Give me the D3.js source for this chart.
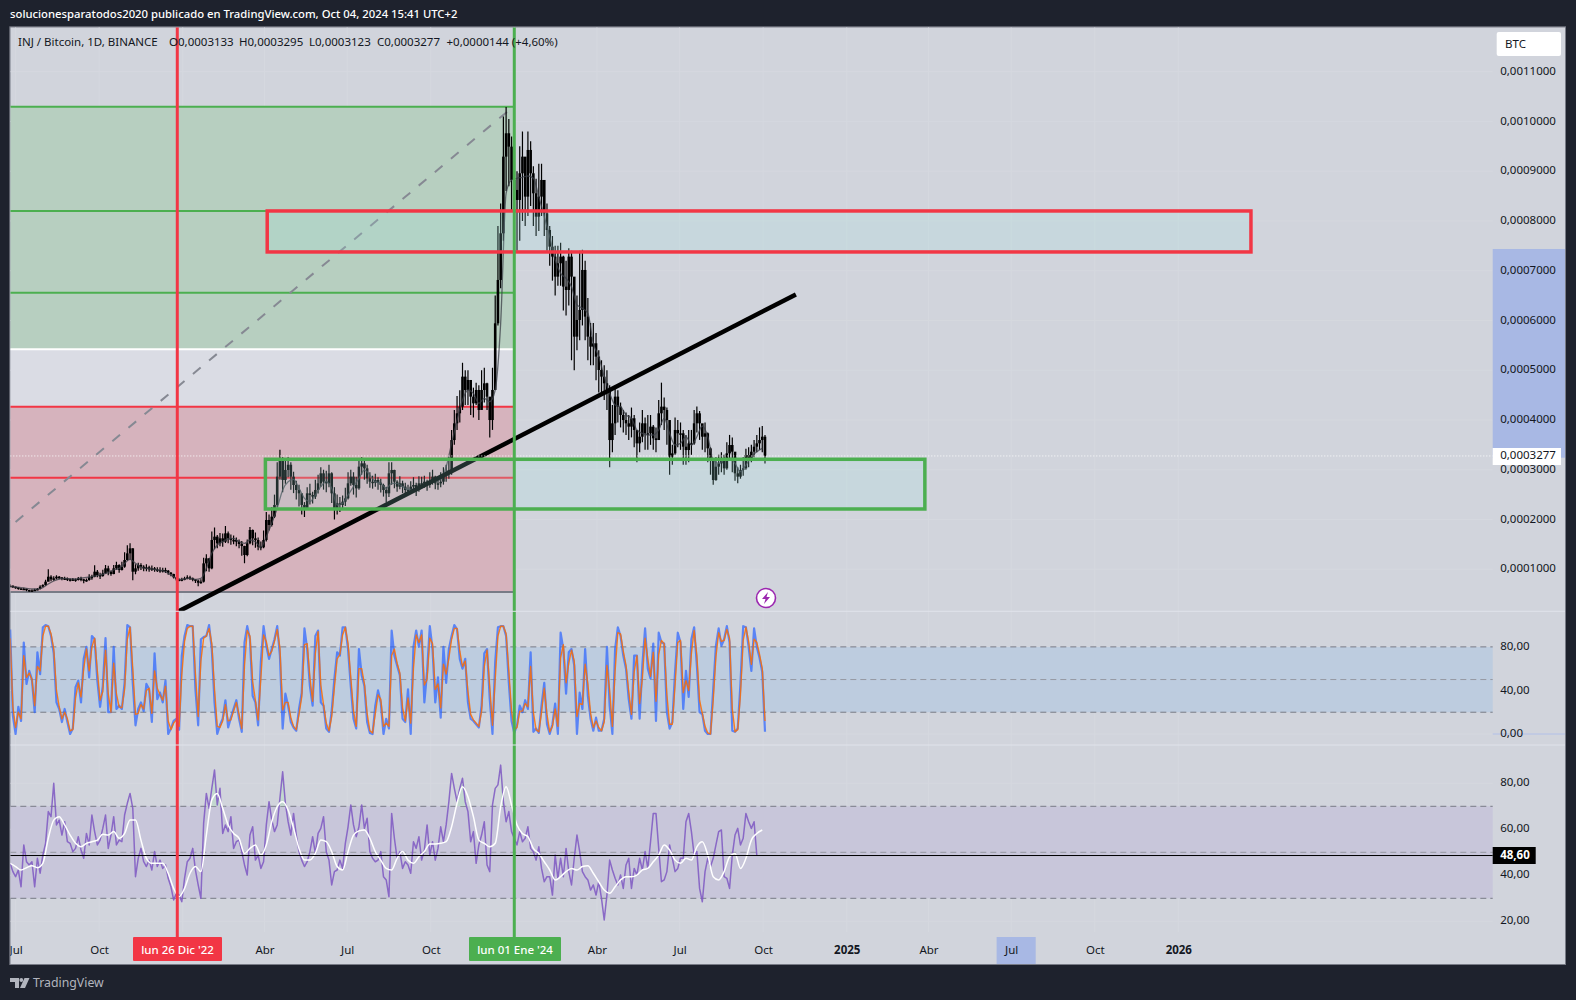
<!DOCTYPE html>
<html>
<head>
    <title>INJ / Bitcoin, 1D, BINANCE</title>
    <meta charset="utf-8">
    <script src="https://cdnjs.cloudflare.com/ajax/libs/d3/7.8.5/d3.min.js" charset="utf-8"></script>
    <style>
        html, body { margin: 0; padding: 0; background: #1e222d; }
        svg { display: block; }
        text { font-family: "Noto Sans", sans-serif; font-size: 11.5px; fill: #131722; }
    </style>
</head>
<body>
<svg id="chart" width="1576" height="1000"></svg>

<script>

    // all prices are in units of 0.0000001 BTC, one sample every 3 days from 25 Jun 2022
    var priceClose = [
        670,648,635,615,602,608,582,568,575,588,
        603,650,683,750,850,797,817,850,837,804,
        817,797,784,797,784,817,797,770,784,837,
        850,951,884,864,917,1018,951,904,1018,1085,
        985,1051,1186,1320,1420,951,1018,1085,1051,1018,
        1038,998,1018,998,985,971,985,971,931,904,
        837,797,784,797,817,837,817,797,770,730,
        750,1118,1219,1018,1588,1655,1521,1621,1554,1722,
        1621,1588,1588,1554,1508,1467,1286,1521,1789,1621,
        1588,1454,1441,1588,1990,1890,2057,2292,2861,3196,
        2794,2995,3100,2861,2693,2593,2526,2292,2225,2526,
        2492,2459,2593,2727,2928,2760,2727,2928,2526,2225,
        2325,2292,2358,2425,2727,2861,2693,2626,3062,3129,
        3028,2827,2760,2740,2794,2740,2693,2593,2526,2928,
        2995,2760,2660,2727,2660,2593,2593,2660,2693,2593,
        2727,2727,2760,2693,2760,2861,2727,2727,2760,2894,
        2928,2995,3597,3933,4134,4268,4871,4603,4804,4469,
        4335,4603,4201,4603,4737,4469,3999,4603,5943,6814,
        7752,9293,9762,9494,8824,8623,8422,8958,9293,8489,
        9427,8958,8556,8087,8489,8824,8154,7819,7484,7283,
        6881,7149,7283,6680,6613,7283,6881,5675,6010,6211,
        7015,6077,5675,5474,5541,5273,5005,4871,4737,4603,
        3597,3933,4469,4268,4101,3999,3933,3866,4034,3799,
        3530,3664,3933,3732,3732,3866,3631,3597,4134,4268,
        4201,3999,3263,3329,3799,3732,3732,3463,3396,3530,
        3530,3933,4134,3933,3664,3732,3430,3195,2793,3061,
        3128,3195,3028,3329,3497,3363,2928,2861,2995,3028,
        3296,3229,3363,3463,3530,3597,3664,3277
    ];
    var priceHigh = [
        700,672,655,640,618,628,610,588,592,610,
        625,680,700,790,1000,880,860,880,865,840,
        850,835,815,825,815,845,850,810,815,900,
        890,1080,985,930,990,1085,1070,975,1085,1150,
        1100,1150,1340,1480,1520,1420,1100,1130,1120,1080,
        1100,1070,1075,1045,1040,1040,1030,1030,985,945,
        910,840,815,830,850,880,870,835,800,790,
        800,1230,1300,1220,1760,1840,1690,1730,1720,1870,
        1760,1700,1680,1640,1600,1570,1470,1600,1850,1800,
        1740,1640,1560,1780,2150,2100,2250,2500,3150,3400,
        3250,3180,3250,3150,2960,2780,2700,2500,2350,2650,
        2720,2560,2800,2900,3050,3000,2980,3100,2950,2650,
        2500,2450,2480,2640,2950,3000,2950,2860,3200,3250,
        3230,3100,2950,2880,2920,2850,2820,2720,2660,3150,
        3150,3000,2790,2870,2780,2740,2700,2770,2850,2740,
        2870,2860,2880,2800,2950,3000,2880,2850,2950,3050,
        3100,3250,3800,4200,4480,4600,5150,5000,5000,4750,
        4650,4750,4700,5000,5050,4750,4400,5050,6500,7900,
        8350,10100,10290,10050,9700,9150,9000,9500,9800,9200,
        9800,9600,9100,8850,9150,9150,8700,8350,7900,7700,
        7500,7500,7560,7300,7200,7450,7400,6800,6500,7400,
        7420,7200,6450,5950,5950,5750,5400,5200,5100,5000,
        4700,4300,4650,4600,4350,4200,4150,4100,4250,4100,
        3800,3950,4200,4050,4100,4100,3900,3850,4400,4750,
        4450,4250,3900,3500,4050,4000,3950,3800,3700,3800,
        3800,4200,4270,4180,3900,3950,3750,3450,3200,3250,
        3300,3350,3300,3550,3700,3650,3200,3050,3100,3250,
        3420,3450,3500,3600,3700,3850,3880,3700
    ];
    var priceLow = [
        640,625,610,590,585,585,560,548,555,565,
        580,595,640,670,760,760,770,800,800,780,
        785,765,755,765,750,775,760,720,750,770,
        790,840,840,805,850,910,880,870,900,990,
        930,975,1030,1170,1190,780,900,970,985,960,
        960,950,965,950,945,930,935,925,890,860,
        815,770,760,760,780,800,785,760,725,660,
        710,735,960,950,1000,1400,1420,1460,1450,1530,
        1520,1490,1500,1460,1420,1270,1120,1260,1500,1480,
        1430,1380,1380,1420,1560,1780,1860,2030,2250,2800,
        2550,2720,2850,2600,2530,2400,2260,2100,2050,2200,
        2300,2320,2410,2520,2660,2600,2550,2650,2330,2000,
        2100,2150,2220,2270,2400,2680,2500,2440,2600,2900,
        2800,2720,2640,2620,2660,2600,2540,2460,2340,2450,
        2700,2630,2560,2610,2530,2480,2490,2540,2580,2470,
        2560,2620,2640,2580,2640,2700,2610,2600,2650,2700,
        2760,2820,2900,3500,3800,3950,4200,4300,4300,4100,
        4050,4300,4000,4250,4350,4200,3650,3800,4700,5900,
        6650,7600,8600,8700,8200,8000,7400,7600,8000,7900,
        8100,8300,7900,7700,7800,8100,7700,7400,7100,6800,
        6500,6700,6700,6200,6100,6300,5200,5000,5400,5600,
        5900,5600,5200,5100,5100,4800,4550,4500,4400,4200,
        3050,3350,3700,3950,3850,3750,3700,3600,3650,3450,
        3150,3350,3550,3400,3400,3500,3400,3350,3600,3900,
        3800,3500,2900,3100,3300,3450,3400,3100,3100,3150,
        3300,3500,3750,3600,3400,3350,3150,2900,2700,2780,
        2900,2950,2900,3000,3200,2950,2780,2730,2820,2880,
        3000,3050,3150,3250,3350,3400,3350,3123
    ];

    // moving average on the price, one sample every 6 days
    var priceMa = [
        650,643,630,616,603,603,630,704,764,804,
        817,810,804,824,837,850,871,898,938,985,
        1018,1118,1199,1118,1038,1018,1005,985,971,918,
        851,797,804,817,797,817,1018,1320,1488,1554,
        1608,1621,1554,1521,1588,1554,1441,1655,1923,2225,
        2593,2760,2807,2626,2425,2358,2492,2660,2760,2626,
        2291,2325,2492,2660,2827,2995,2894,2760,2727,2626,
        2727,2727,2660,2606,2606,2646,2693,2740,2760,2807,
        3061,3530,3999,4402,4603,4536,4335,4436,4368,4603,
        5943,8556,8824,8857,8878,8904,8857,8489,8087,7685,
        7216,6948,6848,6680,6312,6245,6144,5541,5273,4871,
        4536,4302,4268,4101,4034,3799,3732,3698,3698,3799,
        4034,3732,3497,3530,3664,3497,3664,3879,3664,3195,
        3128,3195,3229,3128,2961,3095,3263,3363,3430
    ];

    // Stoch RSI %K and %D, one sample every 3 days
    var stochK = [
        96,17,0,25,12,84,46,58,50,20,
        75,55,98,100,99,90,74,29,23,11,
        23,11,0,5,43,49,29,69,80,52,
        90,87,49,25,44,88,20,20,80,23,
        26,23,47,100,98,47,8,23,29,21,
        46,41,11,74,32,38,29,49,0,5,
        12,14,4,72,90,100,99,99,41,8,
        87,89,90,100,78,29,0,8,14,31,
        6,15,23,31,14,2,84,99,87,35,
        29,8,66,99,81,69,78,87,99,72,
        5,37,26,11,6,3,23,38,97,78,
        44,26,90,95,29,26,5,2,21,51,
        75,72,98,98,78,44,14,5,78,54,
        44,11,1,0,26,40,29,0,14,5,
        95,72,63,
        54,14,11,41,0,80,95,80,95,29,
        57,99,78,29,52,15,80,47,78,90,
        100,96,69,60,69,29,14,12,9,6,
        26,74,78,32,0,66,98,99,99,90,
        47,12,1,8,26,20,31,23,75,2,
        5,1,26,47,9,0,9,28,0,93,
        78,37,75,78,63,0,38,23,78,35,
        14,3,15,3,3,14,80,26,0,78,
        98,90,72,60,32,14,72,72,14,
        63,97,60,51,83,12,93,84,83,
        20,5,11,57,93,84,23,58,34,
        87,98,63,20,18,3,0,0,41,81,
        97,81,87,99,84,3,2,5,46,99,
        98,80,58,97,80,70,57,2
    ];
    var stochD = [
        88,25,6,20,14,72,52,56,50,26,
        62,58,90,99,99,92,78,40,25,14,
        20,14,3,4,33,47,34,60,78,58,
        80,88,58,31,39,77,37,20,65,37,
        25,24,41,87,98,60,18,19,27,23,
        40,42,19,58,42,36,31,44,12,4,
        10,13,7,55,85,97,99,99,55,16,
        67,88,90,97,83,41,7,6,12,27,
        12,13,21,29,18,5,63,95,90,48,
        31,13,51,91,85,72,76,85,96,79,
        22,29,29,15,7,4,18,34,82,83,
        52,30,74,94,45,27,10,3,16,43,
        69,73,91,98,83,52,21,7,60,60,
        46,19,3,1,19,36,32,7,10,7,
        72,78,65,
        56,24,12,33,10,60,91,84,91,45,
        50,88,83,41,46,24,64,55,70,87,
        97,97,76,62,67,39,18,13,10,7,
        21,62,77,43,8,50,90,99,99,92,
        58,21,4,6,21,21,28,25,62,20,
        4,2,20,42,18,2,7,23,7,70,
        82,47,65,77,67,16,28,27,64,46,
        19,6,12,6,3,11,63,40,7,58,
        93,92,76,63,39,18,57,72,28,
        51,88,69,53,75,30,73,86,83,
        36,9,9,45,84,86,38,49,40,
        74,95,72,31,19,7,1,0,31,71,
        93,85,86,96,88,23,2,4,36,86,
        98,85,64,87,84,73,60,12
    ];

    // RSI, one sample every 3 days, and its moving average, one sample every 6 days
    var rsi = [
        45.2,41.6,39.4,42.3,35,53.2,45.9,44.5,45.9,35,
        47.4,40.9,48.8,53.9,67.7,65.5,80,61.9,64,57.5,
        63.3,54.6,53.9,50.3,51.7,56.8,51,47.4,58.2,53.2,
        66.2,59,53.2,55.3,60.4,66.2,51.7,57.5,65.5,53.2,
        55.3,54.6,66.2,71.3,75.6,69.1,39.4,47.4,51.7,45.9,
        43.8,46.6,42.3,50.3,43.8,46.6,43,44.5,38.7,35,
        29.3,32.2,31.4,28.5,38.7,45.9,47.4,51.7,42.3,35.8,
        30,62.6,75.6,69.1,77.8,85.8,70.6,77.8,58.2,61.9,
        59,65.5,51.7,54.6,55.3,50.3,44.5,40.1,57.5,61.1,
        46.6,48.8,43,45.9,61.9,72,64,59,61.9,73.5,
        85,71.3,63.3,57.5,66.9,57.5,50.3,46.6,43.8,45.9,
        50.3,56.8,49.5,58.2,60.4,65.5,50.3,46.6,35.8,41.6,
        42.3,46.6,43,53.9,61.1,70.6,61.9,56.8,61.1,70.6,
        60.4,64.8,50.3,47.4,45.9,46.6,50.3,39.4,38,30.7,
        66.9,56.1,47.4,
        50.3,43,45.9,44.5,40.9,54.6,51.7,56.8,46.6,51,
        61.9,48.8,54.6,46.6,51.7,61.1,54.6,61.9,72,84.3,
        77.8,72,77.8,82.2,72,67.7,54.6,59,45.2,53.2,
        57.5,63.3,44.5,41.6,70.6,77.8,79.3,87.9,72,63.3,
        67.7,59,56.1,53.2,59,54.6,56.1,61.1,51.7,50.3,
        46.6,52.4,43,37.2,39.4,39.4,31.4,48.8,38.7,47.4,
        39.4,51.7,41.6,35.8,47.4,57.5,50.3,41.6,39.4,38,
        33.6,35.8,31.4,37.2,30,20.6,31.4,46.6,42.3,38.7,
        35.8,40.1,34.3,44.5,47.4,34.3,43,40.1,47.4,42.3,
        50.3,43,54.6,66.9,66.9,51.7,37.2,38,41.6,53.2,
        47.4,41.6,43,47.4,47.4,63.3,66.9,59,48.8,50.3,
        34.3,28.5,41.6,47.4,43.8,47.4,53.2,59,59.7,39.4,
        38.7,34.3,48.8,57.5,60.4,53.2,56.1,66.9,63.3,60.4,
        63.3,48.6
    ];
    var rsiMa = [
        45.2,43.8,42.3,43.3,44.2,43.3,45.2,56.1,64,65.5,
        61.9,57.5,53.9,52.4,53.9,54.6,55.3,57.8,57.5,59,
        56.1,58.2,64,64,55.3,47.4,45.2,45.2,45.2,40.9,
        34.3,30.7,34.3,40.9,43.8,41.6,57.5,72.7,75.6,69.1,
        61.9,58.2,56.1,49.5,51.7,53.2,48.8,53.2,63.3,69.8,
        72,68.4,60.4,51.7,46.6,46.6,49.5,55.3,54.6,50.3,
        43.8,42.3,50.3,57.5,59.3,59.7,56.1,50.3,46.6,43,
        42.3,47.4,50.3,46.6,45.2,48.1,50.3,53.6,53.6,53.9,
        54.6,61.1,71.3,78.5,74.2,65.5,55.3,53.9,52.4,53.9,
        69.8,78.5,70.6,61.9,58.2,56.8,51.7,49.5,45.9,42.3,
        38,39.4,41.6,43,42.3,43.8,44.2,40.9,37.2,33.6,
        32.2,35,38,39.4,39.4,40.1,42.3,43,45.9,48.8,
        53.2,51,46.6,45.2,47.4,46.6,52.4,54.6,48.8,39.4,
        38,41.6,48.1,49.5,43,47.4,55.3,58.2,59.7
    ];

    var lastPrice = 3277;
    var lastRsi = 48.6;

    var priceTicks = [1000,2000,3000,4000,5000,6000,7000,8000,9000,10000,11000];
    var stochTicks = [0,40,80];
    var stochLevels = [20,50,80];
    var rsiTicks = [20,40,60,80];
    var rsiLevels = [30,50,70];

    // fib levels of the long position tool
    var fibGreen = [10297,8201,6559];
    var fibWhite = 5421;
    var fibRed = [4267,2840];
    var fibGrey = 543;

    var monthLabels = [
        ["2022-07-01","Jul"],["2022-10-01","Oct"],["2023-04-01","Abr"],["2023-07-01","Jul"],
        ["2023-10-01","Oct"],["2024-04-01","Abr"],["2024-07-01","Jul"],["2024-10-01","Oct"],
        ["2025-01-01","2025"],["2025-04-01","Abr"],["2025-07-01","Jul"],["2025-10-01","Oct"],
        ["2026-01-01","2026"]
    ];

    var legendParts = [
        [18,"INJ / Bitcoin, 1D, BINANCE"],[169,"O0,0003133"],[239,"H0,0003295"],
        [309,"L0,0003123"],[377,"C0,0003277"],[446.5,"+0,0000144 (+4,60%)"]
    ];

    var parse = d3.utcParse("%Y-%m-%d");
    var esLocale = d3.formatLocale({decimal: ",", thousands: ".", grouping: [3], currency: ["", ""]});
    var fmtPrice = esLocale.format(".7f");
    var fmtOsc = esLocale.format(".2f");

    var startDate = parse("2022-06-25");
    function sampleDate(i, step) { return d3.utcDay.offset(startDate, i * step); }

    var x = d3.scaleUtc().domain([startDate, parse("2024-10-04")]).range([10.15, 765.9]);
    var yPrice = d3.scaleLinear().domain([0, 11000]).range([619, 71.7]);
    var yStoch = d3.scaleLinear().domain([0, 100]).range([734, 625.1]);
    var yRsi = d3.scaleLinear().domain([20, 80]).range([921.3, 783.3]);

    var boxLeft = 10.3, boxRight = 1565, boxTop = 27.3, boxBottom = 964, axisLeft = 1492.7;
    var paneSep1 = 611.3, paneSep2 = 745;

    var colRed = "#f23645", colGreen = "#4caf50";

    var svg = d3.select("#chart");
    var defs = svg.append("defs");
    defs.append("clipPath").attr("id", "clipAll").append("rect")
        .attr("x", boxLeft).attr("y", boxTop).attr("width", boxRight - boxLeft).attr("height", boxBottom - boxTop);
    defs.append("clipPath").attr("id", "clipPrice").append("rect")
        .attr("x", boxLeft).attr("y", boxTop).attr("width", axisLeft - boxLeft).attr("height", paneSep1 - boxTop);
    defs.append("clipPath").attr("id", "clipOverbought").append("rect")
        .attr("x", boxLeft).attr("y", paneSep2).attr("width", axisLeft - boxLeft).attr("height", yRsi(70) - paneSep2);

    svg.append("text").attr("x", 10).attr("y", 18).style("fill", "#fff")
        .style("font-size", "11.3px").style("font-weight", 500)
        .text("solucionesparatodos2020 publicado en TradingView.com, Oct 04, 2024 15:41 UTC+2");

    svg.append("rect").attr("x", boxLeft - 1).attr("y", boxTop - 1)
        .attr("width", boxRight - boxLeft + 2).attr("height", boxBottom - boxTop + 2).attr("fill", "#787b86");
    var root = svg.append("g").attr("clip-path", "url(#clipAll)");
    root.append("rect").attr("x", boxLeft).attr("y", boxTop)
        .attr("width", boxRight - boxLeft).attr("height", boxBottom - boxTop).attr("fill", "#d1d4dc");

    // grid
    var grid = root.append("g").attr("stroke", "#d5d8df").attr("stroke-width", 1);
    monthLabels.concat([["2023-01-01",""],["2024-01-01",""]]).forEach(function(m) {
        grid.append("line").attr("x1", x(parse(m[0]))).attr("x2", x(parse(m[0])))
            .attr("y1", boxTop).attr("y2", 932);
    });
    priceTicks.forEach(function(t) {
        grid.append("line").attr("x1", boxLeft).attr("x2", axisLeft).attr("y1", yPrice(t)).attr("y2", yPrice(t));
    });
    stochTicks.forEach(function(t) {
        grid.append("line").attr("x1", boxLeft).attr("x2", axisLeft).attr("y1", yStoch(t)).attr("y2", yStoch(t));
    });
    rsiTicks.forEach(function(t) {
        grid.append("line").attr("x1", boxLeft).attr("x2", axisLeft).attr("y1", yRsi(t)).attr("y2", yRsi(t));
    });

    // selection bands on the axes
    root.append("rect").attr("x", axisLeft).attr("width", boxRight - axisLeft)
        .attr("y", yPrice(7437)).attr("height", yPrice(3242) - yPrice(7437)).attr("fill", "#a8b8e4");
    root.append("rect").attr("x", x(parse("2025-06-15"))).attr("y", 937)
        .attr("width", x(parse("2025-07-28")) - x(parse("2025-06-15"))).attr("height", 27).attr("fill", "#a8b8e4");

    // long position tool, from the left edge to 1 Jan 2024
    var fibEnd = x(parse("2024-01-01"));
    var fib = root.append("g");
    function band(v1, v2, col) {
        fib.append("rect").attr("x", boxLeft).attr("width", fibEnd - boxLeft)
            .attr("y", yPrice(v1)).attr("height", yPrice(v2) - yPrice(v1)).attr("fill", col);
    }
    function level(v, col) {
        fib.append("line").attr("x1", boxLeft).attr("x2", fibEnd).attr("y1", yPrice(v)).attr("y2", yPrice(v))
            .attr("stroke", col).attr("stroke-width", 2);
    }
    band(fibGreen[0], fibWhite, "#b7cfc0");
    band(fibWhite, fibRed[0], "#dadce4");
    band(fibRed[0], fibGrey, "#d6b3bd");
    fibGreen.forEach(function(v) { level(v, colGreen); });
    level(fibWhite, "#fff");
    fibRed.forEach(function(v) { level(v, colRed); });
    level(fibGrey, "#787b86");
    fib.append("line")
        .attr("x1", x(parse("2022-07-01"))).attr("y1", yPrice(1950))
        .attr("x2", fibEnd - 1).attr("y2", yPrice(fibGreen[0]))
        .attr("stroke", "#868993").attr("stroke-width", 2).attr("stroke-dasharray", "10,11");

    // stoch and rsi bands
    function oscPane(yScale, levels, fillCol) {
        root.append("rect").attr("x", boxLeft).attr("width", axisLeft - boxLeft)
            .attr("y", yScale(levels[2])).attr("height", yScale(levels[0]) - yScale(levels[2])).attr("fill", fillCol);
        levels.forEach(function(l, k) {
            root.append("line").attr("x1", boxLeft).attr("x2", axisLeft).attr("y1", yScale(l)).attr("y2", yScale(l))
                .attr("stroke", k == 1 ? "#9598a1" : "#787b86").attr("stroke-dasharray", "6,4");
        });
    }
    oscPane(yStoch, stochLevels, "#bdccdf");
    oscPane(yRsi, rsiLevels, "#c8c6da");

    // candles, open is the close of the previous sample
    var candles = root.append("g").attr("clip-path", "url(#clipPrice)");
    candles.selectAll("line.wick").data(priceClose).enter().append("line").attr("class", "wick")
        .attr("x1", function(d, i) { return x(sampleDate(i, 3)); })
        .attr("x2", function(d, i) { return x(sampleDate(i, 3)); })
        .attr("y1", function(d, i) { return yPrice(priceHigh[i]); })
        .attr("y2", function(d, i) { return yPrice(priceLow[i]); })
        .attr("stroke", "#000").attr("stroke-width", 1.2);
    candles.selectAll("rect.body").data(priceClose).enter().append("rect").attr("class", "body")
        .attr("x", function(d, i) { return x(sampleDate(i, 3)) - 1.3; })
        .attr("width", 2.6)
        .attr("y", function(d, i) { return yPrice(Math.max(d, i ? priceClose[i - 1] : d)); })
        .attr("height", function(d, i) {
            var o = i ? priceClose[i - 1] : d;
            return Math.max(1.5, Math.abs(yPrice(d) - yPrice(o)));
        })
        .attr("fill", "#000");

    var maLine = d3.line()
        .x(function(d, i) { return x(sampleDate(i, 6)); })
        .y(function(d) { return yPrice(d); })
        .curve(d3.curveMonotoneX);
    candles.append("path").datum(priceMa).attr("d", maLine).attr("fill", "none")
        .attr("stroke", "#3a3d45").attr("stroke-opacity", 0.75).attr("stroke-width", 1.3);

    // trend line
    candles.append("line")
        .attr("x1", x(parse("2022-12-27"))).attr("y1", yPrice(150))
        .attr("x2", x(parse("2024-11-06"))).attr("y2", yPrice(6523))
        .attr("stroke", "#000").attr("stroke-width", 4.5);

    // zones
    function zone(d1, d2, vTop, vBottom, col) {
        root.append("rect")
            .attr("x", x(parse(d1))).attr("width", x(parse(d2)) - x(parse(d1)))
            .attr("y", yPrice(vTop)).attr("height", yPrice(vBottom) - yPrice(vTop))
            .attr("fill", "#9fe8e1").attr("fill-opacity", 0.2)
            .attr("stroke", col).attr("stroke-width", 3.5);
    }
    zone("2023-04-04", "2026-03-22", 8201, 7377, colRed);
    zone("2023-04-02", "2025-03-28", 3210, 2211, colGreen);

    // last price dotted line
    root.append("line").attr("x1", boxLeft).attr("x2", axisLeft)
        .attr("y1", yPrice(lastPrice)).attr("y2", yPrice(lastPrice))
        .attr("stroke", "#fff").attr("stroke-width", 1).attr("stroke-dasharray", "1,2");

    // oscillators
    function oscLine(yScale, step, curve) {
        return d3.line().x(function(d, i) { return x(sampleDate(i, step)); })
            .y(function(d) { return yScale(d); }).curve(curve);
    }
    function drawOsc(data, gen, col, w, op) {
        root.append("path").datum(data).attr("d", gen).attr("fill", "none")
            .attr("stroke", col).attr("stroke-width", w).attr("stroke-opacity", op)
            .attr("stroke-linejoin", "round");
    }
    drawOsc(stochK, oscLine(yStoch, 3, d3.curveLinear), "#2962ff", 2.2, 0.7);
    drawOsc(stochD, oscLine(yStoch, 3, d3.curveLinear), "#ff6d00", 1.4, 0.85);

    // pale shading where rsi stays overbought above its average
    var overbought = d3.area()
        .defined(function(d, i) { return rsiMa[Math.floor(i / 2)] >= 68; })
        .x(function(d, i) { return x(sampleDate(i, 3)); })
        .y0(yRsi(70))
        .y1(function(d) { return yRsi(d); });
    root.append("path").datum(rsi).attr("d", overbought).attr("fill", "#c3d8cf")
        .attr("clip-path", "url(#clipOverbought)");

    drawOsc(rsi, oscLine(yRsi, 3, d3.curveLinear), "#7e57c2", 1.5, 0.85);
    drawOsc(rsiMa, oscLine(yRsi, 6, d3.curveMonotoneX), "#fff", 1.5, 1);

    // last rsi value line
    root.append("line").attr("x1", boxLeft).attr("x2", axisLeft)
        .attr("y1", yRsi(lastRsi)).attr("y2", yRsi(lastRsi)).attr("stroke", "#000").attr("stroke-width", 1);

    // vertical markers
    var markers = [["2022-12-26", colRed, "lun 26 Dic '22", 133, 222], ["2024-01-01", colGreen, "lun 01 Ene '24", 469, 561]];
    markers.forEach(function(m) {
        root.append("line").attr("x1", x(parse(m[0]))).attr("x2", x(parse(m[0])))
            .attr("y1", boxTop).attr("y2", 937).attr("stroke", m[1]).attr("stroke-width", 3);
    });

    // pane separators
    [paneSep1, paneSep2].forEach(function(s) {
        root.append("line").attr("x1", boxLeft).attr("x2", boxRight).attr("y1", s).attr("y2", s)
            .attr("stroke", "#e0e3eb").attr("stroke-width", 1);
    });
    root.append("line").attr("x1", axisLeft).attr("x2", boxRight).attr("y1", yStoch(0)).attr("y2", yStoch(0))
        .attr("stroke", "#b2c0e8").attr("stroke-width", 1);

    // axes
    function cleanAxis(g) {
        g.select(".domain").remove();
        g.selectAll(".tick line").remove();
        g.selectAll("text").style("font-family", '"Noto Sans", sans-serif').style("font-size", "11.5px").style("fill", "#131722");
    }
    var axisX = axisLeft + 7.5;
    root.append("g").attr("transform", "translate(" + axisX + ",-1)")
        .call(d3.axisRight(yPrice).tickValues(priceTicks).tickSize(0).tickPadding(0)
            .tickFormat(function(d) { return fmtPrice(d / 1e7); }))
        .call(cleanAxis);
    root.append("g").attr("transform", "translate(" + axisX + ",-1)")
        .call(d3.axisRight(yStoch).tickValues(stochTicks).tickSize(0).tickPadding(0).tickFormat(fmtOsc))
        .call(cleanAxis);
    root.append("g").attr("transform", "translate(" + axisX + ",-1)")
        .call(d3.axisRight(yRsi).tickValues(rsiTicks).tickSize(0).tickPadding(0).tickFormat(fmtOsc))
        .call(cleanAxis);

    var labelByTime = {};
    monthLabels.forEach(function(m) { labelByTime[+parse(m[0])] = m[1]; });
    var axisG = root.append("g").attr("transform", "translate(0,937)")
        .call(d3.axisBottom(x).tickValues(monthLabels.map(function(m) { return parse(m[0]); }))
            .tickSize(0).tickPadding(9).tickFormat(function(d) { return labelByTime[+d]; }))
        .call(cleanAxis);
    axisG.selectAll("text").style("font-weight", function(d) { return d.getUTCMonth() == 0 ? 700 : 400; });

    // date flags
    markers.forEach(function(m) {
        root.append("rect").attr("x", m[3]).attr("y", 937).attr("width", m[4] - m[3]).attr("height", 24)
            .attr("rx", 1).attr("fill", m[1]);
        root.append("text").attr("x", (m[3] + m[4]) / 2).attr("y", 954).attr("text-anchor", "middle")
            .style("fill", "#fff").style("font-weight", 500).style("font-size", "11.5px").text(m[2]);
    });

    // last value labels
    root.append("rect").attr("x", axisLeft).attr("width", 68.3).attr("y", 448).attr("height", 17).attr("fill", "#fff");
    root.append("text").attr("x", axisX).attr("y", yPrice(lastPrice) + 3.5).text(fmtPrice(lastPrice / 1e7));
    root.append("rect").attr("x", axisLeft).attr("width", 43).attr("y", 847).attr("height", 17).attr("fill", "#000");
    root.append("text").attr("x", axisX).attr("y", yRsi(lastRsi) + 3.5)
        .style("fill", "#fff").style("font-weight", 700).text(fmtOsc(lastRsi));

    // currency button
    root.append("rect").attr("x", 1496.7).attr("y", 32).attr("width", 64.3).attr("height", 24).attr("rx", 2).attr("fill", "#fff");
    root.append("text").attr("x", 1505).attr("y", 48).text("BTC");

    // legend line
    root.selectAll("text.legend").data(legendParts).enter().append("text").attr("class", "legend")
        .attr("x", function(d) { return d[0]; }).attr("y", 46).text(function(d) { return d[1]; });

    // event badge
    var badge = root.append("g").attr("transform", "translate(766,598)");
    badge.append("circle").attr("r", 9.5).attr("fill", "#fff").attr("stroke", "#9c27b0").attr("stroke-width", 1.6);
    badge.append("path").attr("d", "M2,-6 L-4,1 L-0.5,1 L-2,6 L4,-1 L0.5,-1 Z").attr("fill", "#9c27b0");

    // TradingView mark
    svg.append("path").attr("d", "M10,978 h9 v10 h-4 v-6 h-5 Z M24.5,978 h5 l-4.5,10 h-5 Z").attr("fill", "#b2b5be");
    svg.append("circle").attr("cx", 21.3).attr("cy", 980).attr("r", 1.9).attr("fill", "#b2b5be");
    svg.append("text").attr("x", 33).attr("y", 987).style("fill", "#b2b5be").style("font-size", "12.3px").text("TradingView");

</script>
</body>
</html>
